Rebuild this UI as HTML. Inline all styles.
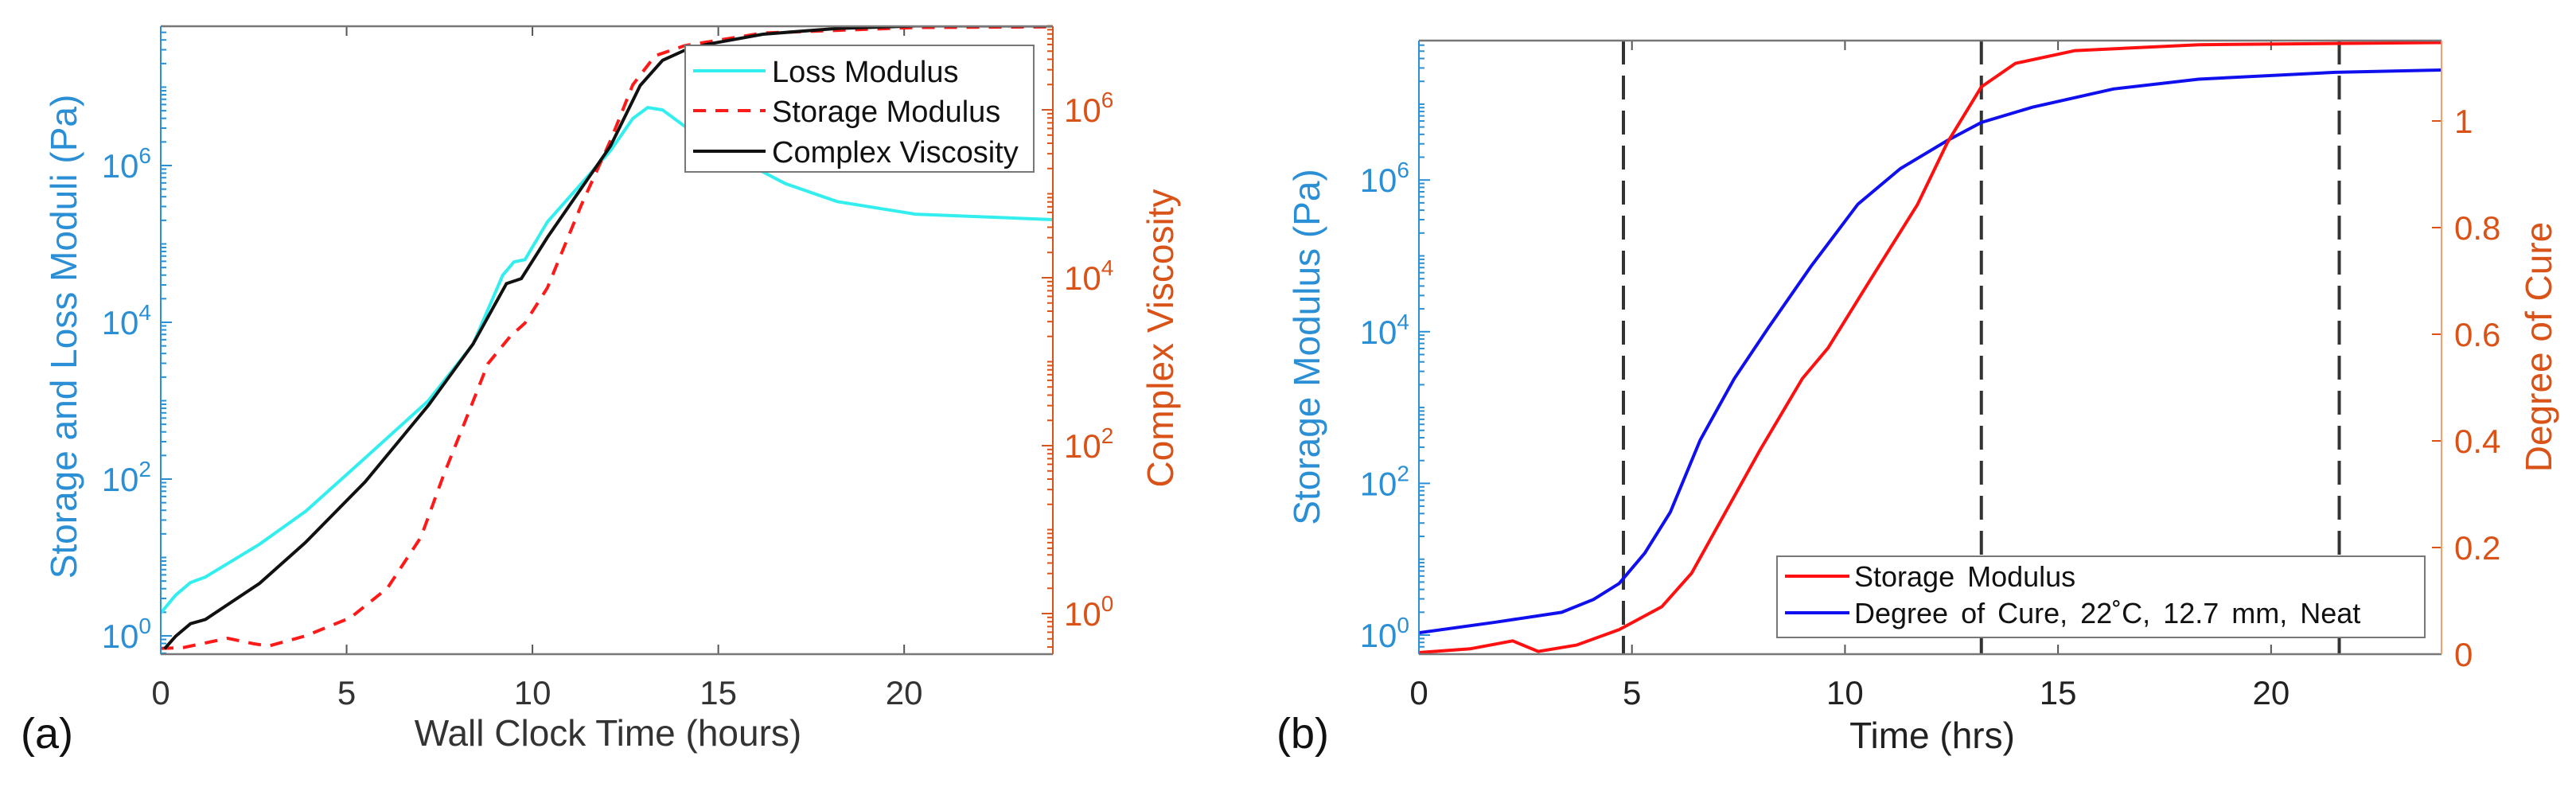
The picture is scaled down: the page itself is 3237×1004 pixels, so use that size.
<!DOCTYPE html>
<html><head><meta charset="utf-8">
<style>
html,body{margin:0;padding:0;background:#fff;}
svg{display:block;font-family:"Liberation Sans",Arial,sans-serif;}
</style></head>
<body>
<svg id="fig" width="3237" height="1004" viewBox="0 0 3237 1004" xmlns="http://www.w3.org/2000/svg">
<g id="pa"></g>
<g id="pb"></g>
</svg>
<script>
// ---------- Panel A data ----------
const aLossT = [0,0.4,0.8,1.2,2.66,3.9,5.5,7.2,8.4,9.2,9.5,9.8,10.4,12.1,12.7,13.1,13.5,14.1,15.1,16.8,18.2,20.3,24];
const aLossV = [0.29,0.52,0.68,0.75,1.17,1.59,2.27,3.0,3.72,4.6,4.77,4.8,5.28,6.19,6.6,6.74,6.71,6.5,6.19,5.77,5.54,5.38,5.31];
const aStorT = [0,0.6,1.8,2.5,2.9,3.9,5.1,6.1,7.0,7.6,8.2,8.8,9.4,9.8,10.4,11.3,12.1,12.7,13.3,14.1,16.2,20.3,24];
const aStorV = [-0.16,-0.15,-0.03,-0.1,-0.13,0,0.23,0.61,1.26,2.04,2.75,3.47,3.82,3.99,4.44,5.48,6.32,7.03,7.4,7.53,7.69,7.76,7.77];
const aViscT = [0.1,0.4,0.8,1.2,2.66,3.9,5.5,7.2,8.4,9.3,9.7,10.4,12.1,12.9,13.5,14.1,14.7,16.2,18.2,20.3,24];
const aViscV = [-0.42,-0.27,-0.12,-0.07,0.36,0.85,1.57,2.48,3.21,3.93,3.99,4.48,5.57,6.29,6.59,6.71,6.78,6.9,6.97,7.0,7.0];
const xTicks = [0,5,10,15,20];
const aLeftTicks = [0,2,4,6];
const aRightTicks = [0,2,4,6];
const aLegend = ["Loss Modulus","Storage Modulus","Complex Viscosity"];
// ---------- Panel B data ----------
const bModT = [0,1.8,3.35,4.1,4.7,5.3,5.9,6.6,7.4,8.2,9.2,10.3,11.3,12.4,13.2,14.4,16.3,18.3,21.5,24];
const bModV = [0.03,0.17,0.3,0.47,0.68,1.08,1.62,2.57,3.38,4.05,4.86,5.68,6.15,6.52,6.76,6.96,7.2,7.33,7.42,7.45];
const bCureT = [0,1.2,2.2,2.8,3.7,4.7,5.7,6.4,7.2,8.0,9.0,9.6,10.5,11.7,12.4,13.2,14.0,15.4,18.3,24];
const bCureV = [0.003,0.01,0.025,0.005,0.017,0.046,0.089,0.152,0.267,0.382,0.517,0.574,0.69,0.843,0.959,1.064,1.108,1.132,1.143,1.147];
const bLeftTicks = [0,2,4,6];
const bRightTicks = [0,0.2,0.4,0.6,0.8,1];
const bRightLabels = ["0","0.2","0.4","0.6","0.8","1"];
const bVLines = [4.8,13.2,21.6];
const bLegend = ["Storage Modulus","Degree of Cure, 22\u02DAC, 12.7 mm, Neat"];

const NS="http://www.w3.org/2000/svg";
const BLUE="#2a8fd4", ORANGE="#D95319", AXC="#7a7a7a";
function mk(parent,tag,attrs,text){
  const e=document.createElementNS(NS,tag);
  for(const k in attrs) e.setAttribute(k,attrs[k]);
  if(text!==undefined) e.textContent=text;
  parent.appendChild(e); return e;
}
function pathFrom(ts,vs,sx,sy){return ts.map((t,i)=>(i?"L":"M")+sx(t).toFixed(1)+","+sy(vs[i]).toFixed(1)).join("");}
function powLabel(g,x,y,exp,color,anchor,name){
  const t=mk(g,"text",{x:x,y:y,fill:color,"font-size":42,"text-anchor":anchor});
  
  
  mk(t,"tspan",{},"10");
  mk(t,"tspan",{dy:-18,"font-size":28},String(exp));
}
function logMinor(g,x,sy,lo,hi,dir,color,ymin,ymax){
  for(let d=Math.floor(lo);d<=Math.ceil(hi);d++){
    for(let m=1;m<10;m++){
      const v=d+Math.log10(m); const y=sy(v);
      if(y<ymin-0.5||y>ymax+0.5) continue;
      const len=(m===1&&d%2===0)?14:7;
      mk(g,"line",{x1:x,x2:x+dir*len,y1:y,y2:y,stroke:color,"stroke-width":2});
    }
  }
}

// ================= Panel A =================
(function(){
  const g=document.getElementById("pa");
  const L=202,R=1323,T=33,B=822;
  const sx=t=>L+(t/24)*(R-L);
  const syL=v=>799-v*98.5;
  const syR=v=>771-v*105.5;
  mk(g,"rect",{x:L,y:T,width:R-L,height:B-T,fill:"#fff"});
  // x ticks
  xTicks.forEach(t=>{
    mk(g,"line",{x1:sx(t),x2:sx(t),y1:B,y2:B-12,stroke:"#555","stroke-width":2});
    mk(g,"line",{x1:sx(t),x2:sx(t),y1:T,y2:T+12,stroke:"#555","stroke-width":2});
    const tl=mk(g,"text",{x:sx(t),y:B+63,"font-size":42,fill:"#333","text-anchor":"middle"},String(t));
    
    
  });
  logMinor(g,L,syL,-1,8,1,BLUE,T,B);
  logMinor(g,R,syR,-1,8,-1,ORANGE,T,B);
  aLeftTicks.forEach(e=>powLabel(g,L-12,syL(e)+15,e,BLUE,"end","left-tick-label"));
  aRightTicks.forEach(e=>powLabel(g,R+14,syR(e)+15,e,ORANGE,"start","right-tick-label"));
  // series
  const clip=mk(g,"clipPath",{id:"clipA"}); mk(clip,"rect",{x:L,y:T,width:R-L,height:B-T});
  const sg=mk(g,"g",{"clip-path":"url(#clipA)"});
  const p1=mk(sg,"path",{d:pathFrom(aLossT,aLossV,sx,syL),fill:"none",stroke:"#33eeee","stroke-width":4});
  
  
  const p2=mk(sg,"path",{d:pathFrom(aStorT,aStorV,sx,syL),fill:"none",stroke:"#ff1a1a","stroke-width":4,"stroke-dasharray":"16,12"});
  
  
  const p3=mk(sg,"path",{d:pathFrom(aViscT,aViscV,sx,syR),fill:"none",stroke:"#111","stroke-width":4});
  
  
  // axes box
  mk(g,"line",{x1:L,x2:R,y1:B,y2:B,stroke:"#777","stroke-width":2.5});
  mk(g,"line",{x1:L,x2:R,y1:T,y2:T,stroke:"#777","stroke-width":2.5});
  mk(g,"line",{x1:L,x2:L,y1:T,y2:B,stroke:BLUE,"stroke-width":2});
  mk(g,"line",{x1:R,x2:R,y1:T,y2:B,stroke:ORANGE,"stroke-width":2});
  // legend
  const lg=mk(g,"g",{});
  
  
  mk(lg,"rect",{x:861,y:57,width:438,height:159,fill:"#fff",stroke:"#777","stroke-width":2});
  const cols=["#33eeee","#ff1a1a","#111"], dash=["none","16,12","none"], ys=[89,139,190];
  aLegend.forEach((s,i)=>{
    mk(lg,"line",{x1:871,x2:962,y1:ys[i],y2:ys[i],stroke:cols[i],"stroke-width":4,"stroke-dasharray":dash[i]});
    const t=mk(lg,"text",{x:970,y:ys[i]+14,"font-size":38,fill:"#111"},s);
    
    
  });
  // axis titles
  const yl=mk(g,"text",{x:0,y:0,"font-size":46,fill:BLUE,"text-anchor":"middle",transform:"translate(96,423) rotate(-90)"},"Storage and Loss Moduli (Pa)");
  
  
  const yr=mk(g,"text",{x:0,y:0,"font-size":46,fill:ORANGE,"text-anchor":"middle",transform:"translate(1474,425) rotate(-90)"},"Complex Viscosity");
  
  
  const xl=mk(g,"text",{x:764,y:937,"font-size":46,fill:"#333","text-anchor":"middle"},"Wall Clock Time (hours)");
  
  
  const pl=mk(g,"text",{x:26,y:940,"font-size":54,fill:"#111"},"(a)");
  
  
})();

// ================= Panel B =================
(function(){
  const g=document.getElementById("pb");
  const L=1783,R=3068,T=51,B=822;
  const sx=t=>L+(t/24)*(R-L);
  const syL=v=>798-v*95.3;
  const syR=v=>822-v*670;
  xTicks.forEach(t=>{
    mk(g,"line",{x1:sx(t),x2:sx(t),y1:B,y2:B-12,stroke:"#555","stroke-width":2});
    mk(g,"line",{x1:sx(t),x2:sx(t),y1:T,y2:T+12,stroke:"#555","stroke-width":2});
    const tl=mk(g,"text",{x:sx(t),y:B+63,"font-size":42,fill:"#222","text-anchor":"middle"},String(t));
    
    
  });
  logMinor(g,L,syL,-1,8,1,BLUE,T,B);
  bLeftTicks.forEach(e=>powLabel(g,L-12,syL(e)+15,e,BLUE,"end","left-tick-label"));
  bRightTicks.forEach((v,i)=>{
    mk(g,"line",{x1:R,x2:R-12,y1:syR(v),y2:syR(v),stroke:ORANGE,"stroke-width":2});
    const tl=mk(g,"text",{x:R+16,y:syR(v)+15,"font-size":42,fill:ORANGE},bRightLabels[i]);
    
    
  });
  bVLines.forEach(t=>{
    const l=mk(g,"line",{x1:sx(t),x2:sx(t),y1:T,y2:B,stroke:"#333","stroke-width":4,"stroke-dasharray":"30,14"});
    
    
  });
  const clip=mk(g,"clipPath",{id:"clipB"}); mk(clip,"rect",{x:L,y:T,width:R-L,height:B-T});
  const sg=mk(g,"g",{"clip-path":"url(#clipB)"});
  const p1=mk(sg,"path",{d:pathFrom(bModT,bModV,sx,syL),fill:"none",stroke:"#1010ee","stroke-width":4});
  
  
  const p2=mk(sg,"path",{d:pathFrom(bCureT,bCureV,sx,syR),fill:"none",stroke:"#ff1010","stroke-width":4});
  
  
  mk(g,"line",{x1:L,x2:R,y1:B,y2:B,stroke:"#777","stroke-width":2.5});
  mk(g,"line",{x1:L,x2:R,y1:T,y2:T,stroke:"#777","stroke-width":2.5});
  mk(g,"line",{x1:L,x2:L,y1:T,y2:B,stroke:BLUE,"stroke-width":2});
  mk(g,"line",{x1:R,x2:R,y1:T,y2:B,stroke:"#f0a070","stroke-width":2});
  const lg=mk(g,"g",{});
  
  
  mk(lg,"rect",{x:2233,y:699,width:814,height:102,fill:"#fff",stroke:"#777","stroke-width":2});
  const cols=["#ff1010","#1010ee"], ys=[724,770];
  bLegend.forEach((s,i)=>{
    mk(lg,"line",{x1:2243,x2:2324,y1:ys[i],y2:ys[i],stroke:cols[i],"stroke-width":4});
    const t=mk(lg,"text",{x:2330,y:ys[i]+13,"font-size":36,fill:"#111","word-spacing":6},s);
    
    
  });
  const yl=mk(g,"text",{x:0,y:0,"font-size":46,fill:BLUE,"text-anchor":"middle",transform:"translate(1658,436) rotate(-90)"},"Storage Modulus (Pa)");
  
  
  const yr=mk(g,"text",{x:0,y:0,"font-size":46,fill:ORANGE,"text-anchor":"middle",transform:"translate(3206,436) rotate(-90)"},"Degree of Cure");
  
  
  const xl=mk(g,"text",{x:2428,y:940,"font-size":46,fill:"#222","text-anchor":"middle"},"Time (hrs)");
  
  
  const pl=mk(g,"text",{x:1604,y:940,"font-size":54,fill:"#111"},"(b)");
  
  
})();
</script>
</body></html>
